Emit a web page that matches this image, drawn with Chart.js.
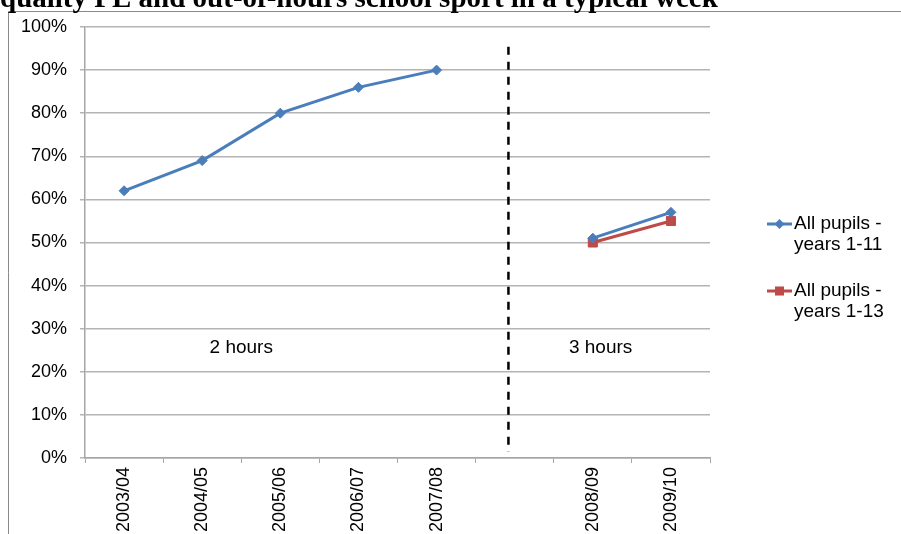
<!DOCTYPE html>
<html>
<head>
<meta charset="utf-8">
<script src="https://cdn.jsdelivr.net/npm/chart.js@4"></script>
<style>
  html, body { margin: 0; padding: 0; background: #fff; }
  #wrap { width: 901px; height: 534px; position: relative; }
</style>
</head>
<body>
<div id="wrap"><canvas id="grafico" width="901" height="534"></canvas></div>
<script>
const categorias = ['2003/04', '2004/05', '2005/06', '2006/07', '2007/08', '', '2008/09', '2009/10'];
const anos1a11 = [62, 69, 80, 86, 90, null, 51, 57];
const anos1a13 = [null, null, null, null, null, null, 50, 55];
const yTicks = [0, 10, 20, 30, 40, 50, 60, 70, 80, 90, 100];
const nomesSeries = [['All pupils -', 'years 1-11'], ['All pupils -', 'years 1-13']];
const rotulosPeriodo = [['2 hours', 1.5], ['3 hours', 6.1]];
const titulo = 'quality PE and out-of-hours school sport in a typical week';

const azul = '#4A7EBB', vermelho = '#BE4B48';
const fonte = '"Liberation Sans", Arial, sans-serif';

// desenha titulo, moldura, linha tracejada, rotulos e legenda
const extras = {
  id: 'extras',
  afterDatasetsDraw(chart) {
    const ctx = chart.ctx;
    const x = chart.scales.x, y = chart.scales.y;
    ctx.save();

    // moldura
    ctx.strokeStyle = '#8a8a8a';
    ctx.lineWidth = 1;
    ctx.beginPath();
    ctx.moveTo(8.5, 534);
    ctx.lineTo(8.5, 11.5);
    ctx.lineTo(901, 11.5);
    ctx.stroke();

    // titulo cortado no topo
    ctx.fillStyle = '#000';
    ctx.font = 'bold 29px "Liberation Serif", "Times New Roman", serif';
    ctx.textBaseline = 'alphabetic';
    ctx.textAlign = 'left';
    ctx.fillText(titulo, 0, 7);

    // linha tracejada
    const xd = x.getPixelForValue(4.92);
    ctx.strokeStyle = '#000';
    ctx.lineWidth = 2.5;
    ctx.setLineDash([8, 7]);
    ctx.beginPath();
    ctx.moveTo(xd, y.getPixelForValue(95.4));
    ctx.lineTo(xd, y.getPixelForValue(1.4));
    ctx.stroke();
    ctx.setLineDash([]);

    // rotulos das horas
    ctx.font = '19px ' + fonte;
    ctx.textAlign = 'center';
    ctx.textBaseline = 'middle';
    ctx.fillStyle = '#000';
    rotulosPeriodo.forEach(([t, v]) => {
      ctx.fillText(t, x.getPixelForValue(v), y.getPixelForValue(25.5));
    });

    // legenda
    const cores = [azul, vermelho];
    const estilos = ['rectRot', 'rect'];
    const raios = [5, 6.4];
    const topo = [224, 291];
    ctx.textAlign = 'left';
    nomesSeries.forEach((linhas, i) => {
      const ly = topo[i];
      ctx.strokeStyle = cores[i];
      ctx.lineWidth = 3;
      ctx.beginPath();
      ctx.moveTo(767, ly);
      ctx.lineTo(792, ly);
      ctx.stroke();
      ctx.fillStyle = cores[i];
      Chart.helpers.drawPoint(ctx, { pointStyle: estilos[i], radius: raios[i], borderWidth: 0 }, 779.5, ly);
      ctx.fillStyle = '#000';
      linhas.forEach((l, k) => ctx.fillText(l, 794, ly + k * 21));
    });
    ctx.restore();
  }
};

const ctxGrafico = document.getElementById('grafico').getContext('2d');
const grafico = new Chart(ctxGrafico, {
  type: 'line',
  data: {
    labels: categorias,
    datasets: [{
      label: nomesSeries[0].join(' '),
      data: anos1a11,
      borderColor: azul,
      backgroundColor: azul,
      borderWidth: 3,
      pointStyle: 'rectRot',
      pointRadius: 5,
      pointBorderWidth: 1,
      tension: 0
    }, {
      label: nomesSeries[1].join(' '),
      data: anos1a13,
      borderColor: vermelho,
      backgroundColor: vermelho,
      borderWidth: 3,
      pointStyle: 'rect',
      pointRadius: 6.4,
      pointBorderWidth: 1,
      tension: 0
    }]
  },
  options: {
    responsive: false,
    animation: false,
    layout: { padding: { top: 27, right: 191, left: 0, bottom: 0 } },
    plugins: { legend: { display: false }, tooltip: { enabled: false } },
    scales: {
      x: {
        offset: true,
        afterFit: s => { s.height = 76; },
        grid: { offset: true, drawOnChartArea: false, drawTicks: true, tickLength: 5, color: '#a6a6a6' },
        border: { color: '#a6a6a6', width: 1.5 },
        ticks: { minRotation: 90, maxRotation: 90, padding: 4, color: '#000', font: { family: fonte, size: 18 }, autoSkip: false }
      },
      y: {
        min: 0,
        max: 100,
        afterFit: s => { s.width = 85; },
        afterBuildTicks: s => { s.ticks = yTicks.map(v => ({ value: v })); },
        grid: { color: '#b4b4b4', lineWidth: 1.5, tickLength: 5 },
        border: { color: '#a6a6a6', width: 1.5 },
        ticks: { padding: 13, color: '#000', font: { family: fonte, size: 18 }, callback: v => v + '%' }
      }
    }
  },
  plugins: [extras]
});
</script>
</body>
</html>
